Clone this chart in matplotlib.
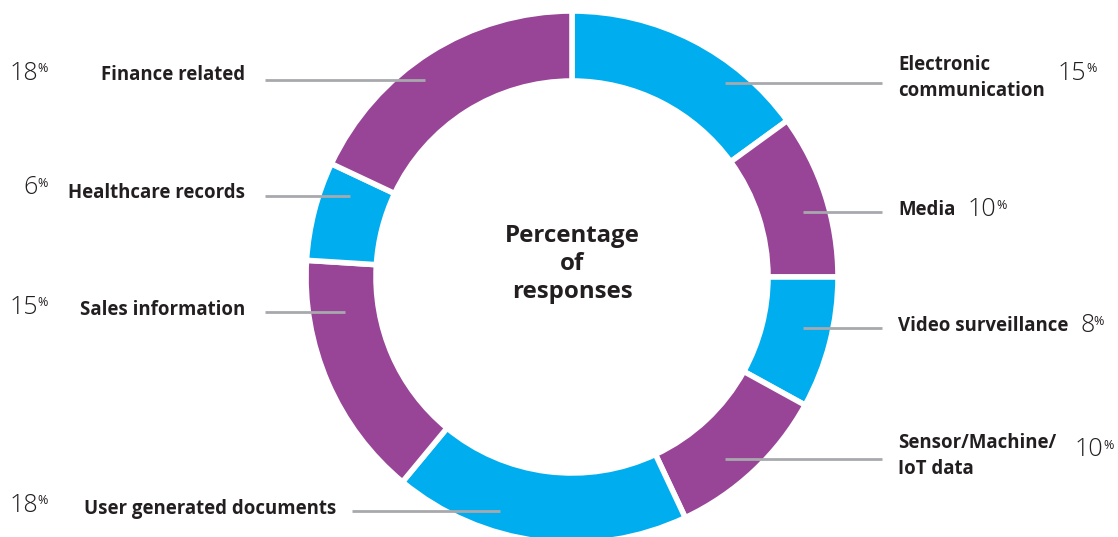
import matplotlib.pyplot as plt

W, H = 1118, 537

# slices clockwise from 12 o'clock
categories = [
    "Electronic\ncommunication",
    "Media",
    "Video surveillance",
    "Sensor/Machine/\nIoT data",
    "User generated documents",
    "Sales information",
    "Healthcare records",
    "Finance related",
]
shares = [15, 10, 8, 10, 18, 15, 6, 18]

BLUE = "#00adef"
PURPLE = "#984497"
slice_colors = [BLUE, PURPLE, BLUE, PURPLE, BLUE, PURPLE, BLUE, PURPLE]

# layout for each label (pixel coords, y from top):
# side, label x, label y, line start x, line end x, line y, number x, number y
layout = [
    ("right", 898, 78, 725, 882, 83, 1058, 73),
    ("right", 898, 210, 803, 882, 212, 968, 210),
    ("right", 898, 326, 803, 882, 328, 1080, 326),
    ("right", 898, 456, 725, 882, 459, 1075, 450),
    ("left", 336, 509, 352, 500, 511, 38, 505),
    ("left", 245, 310, 265, 345, 312, 38, 307),
    ("left", 245, 193, 265, 350, 196, 38, 188),
    ("left", 245, 75, 265, 425, 80, 38, 73),
]

plt.rcParams["font.family"] = ["Open Sans", "DejaVu Sans"]

fig = plt.figure(figsize=(W / 100, H / 100), dpi=100)
ax = fig.add_axes([0, 0, 1, 1])

cx, cy, r = 572, H - 277, 266
ax.pie(
    shares,
    colors=slice_colors,
    startangle=90,
    counterclock=False,
    center=(cx, cy),
    radius=r,
    wedgeprops=dict(width=70, edgecolor="white", linewidth=4),
    frame=True,
)
ax.set_xlim(0, W)
ax.set_ylim(0, H)
ax.set_aspect("equal")
ax.axis("off")

ax.text(cx, H - 264, "Percentage\nof\nresponses", ha="center", va="center",
        fontsize=17.3, fontweight="bold", color="#231f20", linespacing=1.24)

for name, pct, (side, lx, ly, x0, x1, yl, nx, ny) in zip(categories, shares, layout):
    ax.plot([x0, x1], [H - yl, H - yl], color="#a7a9ac", lw=2, solid_capstyle="butt")
    ha = "left" if side == "right" else "right"
    ax.text(lx, H - ly, name, ha=ha, va="center", fontsize=13.4,
            fontweight="bold", color="#231f20", linespacing=1.42)
    num = ax.text(nx, H - ny, str(pct), ha=ha, va="center", fontsize=18,
                  color="#231f20", fontweight="light")
    ax.annotate("%", xy=(1, 0.95), xycoords=num, xytext=(-0.5, 0),
                textcoords="offset points", ha="left", va="top",
                fontsize=9, color="#231f20")

fig.savefig("out.png", dpi=100)
